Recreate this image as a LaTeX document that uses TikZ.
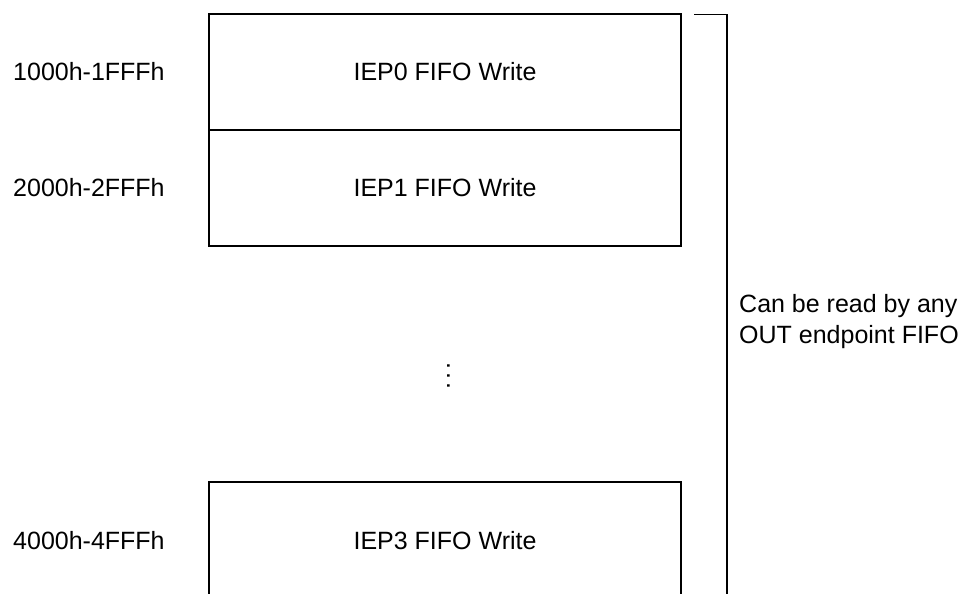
\documentclass[tikz,border=0pt]{standalone}
\usepackage{fontspec}
\setmainfont{Liberation Sans}
\begin{document}
\begin{tikzpicture}[x=1pt,y=-1pt,
  boxline/.style={line width=2.2pt},
  fifobox/.style={draw, boxline, minimum width=472pt, minimum height=116pt, inner sep=0pt,
    font=\fontsize{25}{30}\selectfont},
  addr/.style={anchor=west, inner sep=0pt, font=\fontsize{25}{30}\selectfont},
  note/.style={anchor=west, inner sep=0pt, align=left, font=\fontsize{25}{31}\selectfont},
  bracketline/.style={line width=1.5pt}]
\useasboundingbox[fill=white] (0,0) rectangle (970,594);
% FIFO boxes
\node[fifobox] (b0) at (445,72) {IEP0 FIFO Write};
\node[fifobox] (b1) at (445,188) {IEP1 FIFO Write};
\node[inner sep=0pt, font=\fontsize{25}{30}\selectfont] (b3) at (445,541) {IEP3 FIFO Write};
\coordinate (b3tl) at (209,482);
\coordinate (b3tr) at (681,482);
\draw[boxline] (b3tl |- 0,600) -- (b3tl) -- (b3tr) -- (b3tr |- 0,600);
% vertical ellipsis
\node[inner sep=0pt, rotate=-90, font=\fontsize{25}{30}\selectfont] (dots) at (448.5,376) {.\kern2.6pt.\kern2.6pt.};
% address labels
\node[addr] (a0) at (13,72) {1000h-1FFFh};
\node[addr] (a1) at (13,188) {2000h-2FFFh};
\node[addr] (a3) at (13,541) {4000h-4FFFh};
% bracket
\coordinate (brt) at (694,14.5);
\coordinate (brc) at (727,14.5);
\draw[bracketline] (brt) -- (brc) -- (brc |- 0,600);
\node[note] (nt) at (739,322) {Can be read by any\\OUT endpoint FIFO};
\end{tikzpicture}
\end{document}
